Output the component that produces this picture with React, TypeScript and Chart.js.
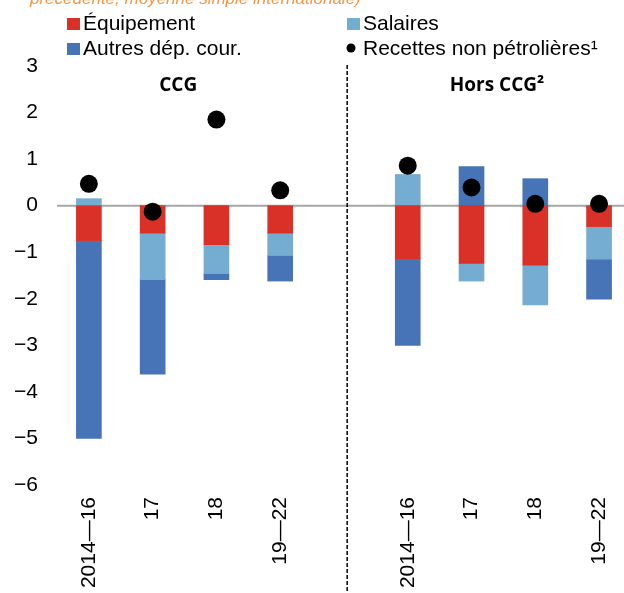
import React, { useEffect, useRef } from 'react';
import { Chart, registerables } from 'chart.js';

Chart.register(...registerables);

const categories = ['2014—16', '17', '18', '19—22', '', '2014—16', '17', '18', '19—22'];
const equipement = [-0.75, -0.59, -0.84, -0.59, null, -1.14, -1.24, -1.28, -0.45];
const salaires = [0.15, -1.0, -0.62, -0.48, null, 0.67, -0.38, -0.85, -0.7];
const autres = [-4.25, -2.03, -0.13, -0.55, null, -1.86, 0.84, 0.58, -0.86];
const recettes = [0.47, -0.13, 1.85, 0.33, null, 0.86, 0.39, 0.04, 0.04];
const groupTitles = ['CCG', 'Hors CCG²'];
const groupCenters = [1.4, 6.4];
const dividerAt = 4.05;
const seriesNames = ['Équipement', 'Salaires', 'Autres dép. cour.', 'Recettes non pétrolières¹'];
const subtitle = 'précédente, moyenne simple internationale)';

const RED = '#D93127';
const LIGHT = '#74ACD2';
const BLUE = '#4674B6';
const FONT = '"Liberation Sans", Arial, sans-serif';

const toPoints = (arr: (number | null)[]) =>
  arr.map((v, i) => ({ x: i, y: v })).filter((p) => p.y !== null);

export default function App() {
  const ref = useRef<HTMLCanvasElement | null>(null);

  useEffect(() => {
    if (!ref.current) return;

    const decor = {
      id: 'decor',
      beforeDatasetsDraw(chart: any) {
        const ctx = chart.ctx;
        const y0 = chart.scales.y.getPixelForValue(0);
        ctx.save();
        ctx.strokeStyle = '#A6A6A6';
        ctx.lineWidth = 2;
        ctx.beginPath();
        ctx.moveTo(chart.chartArea.left, y0);
        ctx.lineTo(chart.width, y0);
        ctx.stroke();
        ctx.restore();
      },
      afterDraw(chart: any) {
        const ctx = chart.ctx;
        const xs = chart.scales.x;
        ctx.save();
        // subtitle (cropped at top)
        ctx.fillStyle = '#F79646';
        ctx.font = `italic 17px ${FONT}`;
        ctx.textBaseline = 'alphabetic';
        ctx.textAlign = 'left';
        ctx.fillText(subtitle, 30, 4);

        // divider
        const dx = xs.getPixelForValue(dividerAt);
        ctx.strokeStyle = '#000';
        ctx.lineWidth = 1.5;
        ctx.setLineDash([4, 2]);
        ctx.beginPath();
        ctx.moveTo(dx, 65);
        ctx.lineTo(dx, 593);
        ctx.stroke();
        ctx.setLineDash([]);

        // group titles
        ctx.fillStyle = '#000';
        ctx.font = `bold 19px "Open Sans", ${FONT}`;
        ctx.textAlign = 'center';
        groupTitles.forEach((t, i) => {
          ctx.fillText(t, xs.getPixelForValue(groupCenters[i]), 91);
        });

        // legend
        ctx.font = `21px ${FONT}`;
        ctx.textAlign = 'left';
        const items = [
          { name: seriesNames[0], color: RED, x: 67, y: 30, dot: false },
          { name: seriesNames[1], color: LIGHT, x: 347, y: 30, dot: false },
          { name: seriesNames[2], color: BLUE, x: 67, y: 55, dot: false },
          { name: seriesNames[3], color: '#000', x: 347, y: 55, dot: true },
        ];
        items.forEach((it) => {
          ctx.fillStyle = it.color;
          if (it.dot) {
            ctx.beginPath();
            ctx.arc(it.x + 4, it.y - 7, 4.5, 0, Math.PI * 2);
            ctx.fill();
          } else {
            ctx.fillRect(it.x, it.y - 12, 13, 12);
          }
          ctx.fillStyle = '#000';
          ctx.fillText(it.name, it.x + 16, it.y);
        });
        ctx.restore();
      },
    };

    const chart = new Chart(ref.current, {
      type: 'bar',
      data: {
        datasets: [
          {
            type: 'line',
            label: seriesNames[3],
            data: toPoints(recettes),
            showLine: false,
            pointRadius: 9,
            pointHoverRadius: 9,
            pointBackgroundColor: '#000',
            pointBorderWidth: 0,
            backgroundColor: '#000',
            stack: 'dots',
            order: 0,
          } as any,
          {
            label: seriesNames[0],
            data: toPoints(equipement),
            backgroundColor: RED,
            barThickness: 25,
            stack: 's',
            order: 1,
          },
          {
            label: seriesNames[1],
            data: toPoints(salaires),
            backgroundColor: LIGHT,
            barThickness: 25,
            stack: 's',
            order: 1,
          },
          {
            label: seriesNames[2],
            data: toPoints(autres),
            backgroundColor: BLUE,
            barThickness: 25,
            stack: 's',
            order: 1,
          },
        ],
      },
      options: {
        responsive: false,
        animation: false,
        layout: { padding: { top: 66, left: 0, right: 0, bottom: 0 } },
        plugins: {
          legend: { display: false },
          tooltip: { enabled: false },
          title: { display: false },
        },
        scales: {
          x: {
            type: 'linear',
            min: -0.5,
            max: 8.25,
            offset: false,
            bounds: 'data',
            stacked: true,
            grid: { display: false, drawTicks: false, offset: false },
            border: { display: false },
            afterBuildTicks: (axis: any) => {
              axis.ticks = categories
                .map((c, i) => ({ value: i, label: c }))
                .filter((t) => t.label !== '')
                .map((t) => ({ value: t.value }));
            },
            afterFit: (axis: any) => {
              axis.height = 108;
              axis.paddingLeft = 0;
              axis.paddingRight = 0;
            },
            ticks: {
              autoSkip: false,
              minRotation: 90,
              maxRotation: 90,
              padding: 12,
              color: '#000',
              font: { family: FONT, size: 21 },
              callback: (v: any) => categories[Math.round(Number(v))] ?? '',
            },
          },
          y: {
            type: 'linear',
            min: -6,
            max: 3,
            stacked: true,
            border: { display: false },
            grid: { display: false, drawTicks: false },
            afterFit: (axis: any) => {
              axis.width = 57;
            },
            ticks: {
              stepSize: 1,
              padding: 19,
              color: '#000',
              font: { family: FONT, size: 21 },
              callback: (v: any) => (Number(v) < 0 ? '\u2212' + Math.abs(Number(v)) : String(v)),
            },
          },
        },
      },
      plugins: [decor],
    });

    return () => chart.destroy();
  }, []);

  return (
    <div style={{ position: 'fixed', left: 0, top: 0, width: 624, height: 593, background: '#fff' }}>
      <canvas ref={ref} width={624} height={593} style={{ display: 'block' }} />
    </div>
  );
}
